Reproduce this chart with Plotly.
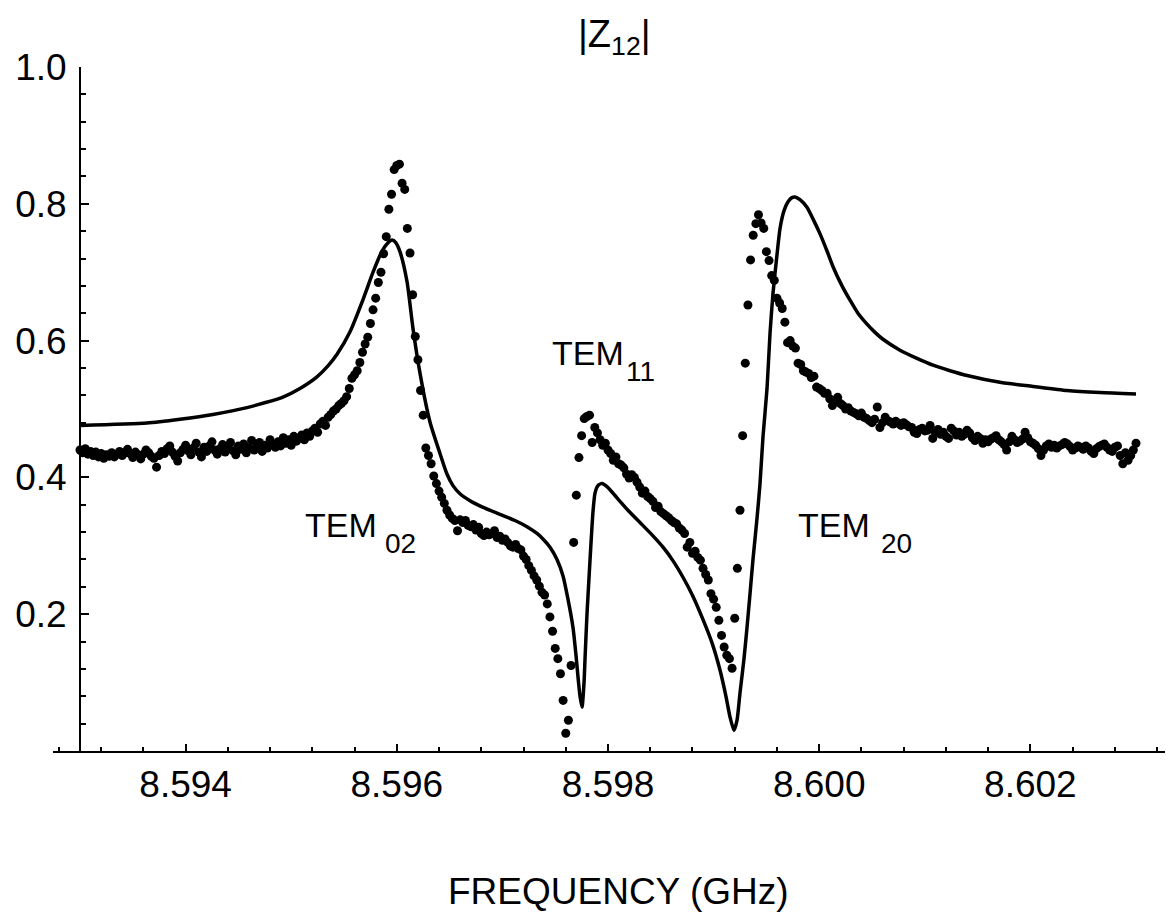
import numpy as np
import plotly.graph_objects as go

# ---------------- data ----------------
# measured |Z12| (dots), uniform frequency sweep 8.593 .. 8.603 GHz, 401 points
meas_freq_start = 8.593
meas_freq_stop = 8.603

meas_a = [0.440, 0.436, 0.442, 0.434, 0.438, 0.432, 0.437, 0.430, 0.435, 0.428,
          0.433, 0.431, 0.436, 0.430, 0.434, 0.438, 0.432, 0.436, 0.441, 0.435,
          0.429, 0.437, 0.433, 0.427, 0.434, 0.440, 0.436, 0.431, 0.428, 0.415,
          0.432, 0.438, 0.435, 0.442, 0.446, 0.437, 0.431, 0.424, 0.436, 0.441,
          0.447, 0.439, 0.433, 0.443, 0.450, 0.437, 0.430, 0.444, 0.438, 0.446,
          0.452, 0.440, 0.434, 0.442, 0.448, 0.437, 0.445, 0.451, 0.439, 0.433,
          0.446, 0.441, 0.449, 0.436, 0.443, 0.454, 0.440, 0.446, 0.451, 0.438,
          0.447, 0.443, 0.455, 0.449, 0.444, 0.452, 0.446, 0.458, 0.450, 0.455,
          0.447, 0.460, 0.453, 0.457, 0.462, 0.455, 0.465, 0.460, 0.468, 0.472,
          0.466, 0.478, 0.482, 0.476, 0.488, 0.492, 0.497, 0.500, 0.505, 0.508]
meas_b = [0.512, 0.518, 0.530, 0.545, 0.550, 0.556, 0.568, 0.583, 0.595, 0.605,
          0.625, 0.645, 0.662, 0.685, 0.700, 0.727, 0.752, 0.792, 0.814, 0.850,
          0.856, 0.858, 0.830, 0.821, 0.764, 0.728, 0.667, 0.606, 0.572, 0.527,
          0.491, 0.443, 0.432, 0.420, 0.402, 0.391, 0.380, 0.371, 0.362, 0.352,
          0.345, 0.340, 0.337, 0.322, 0.338, 0.334, 0.337, 0.330, 0.328, 0.331,
          0.323, 0.327, 0.318, 0.315, 0.320, 0.316, 0.318, 0.322, 0.312, 0.314,
          0.308, 0.310, 0.305, 0.300, 0.298, 0.302, 0.296, 0.294, 0.285, 0.280,
          0.271, 0.264, 0.256, 0.250, 0.241, 0.232, 0.228, 0.215, 0.196, 0.175,
          0.150, 0.135, 0.113, 0.074, 0.026, 0.045, 0.125, 0.305, 0.374, 0.429,
          0.461, 0.486, 0.489, 0.491, 0.451, 0.473, 0.465, 0.455, 0.447, 0.450]
meas_c = [0.440, 0.435, 0.425, 0.430, 0.420, 0.418, 0.414, 0.405, 0.399, 0.404,
          0.400, 0.393, 0.386, 0.377, 0.380, 0.372, 0.369, 0.365, 0.356, 0.358,
          0.350, 0.347, 0.344, 0.341, 0.337, 0.334, 0.332, 0.326, 0.323, 0.318,
          0.298, 0.305, 0.289, 0.292, 0.283, 0.279, 0.267, 0.258, 0.250, 0.230,
          0.222, 0.210, 0.191, 0.169, 0.152, 0.140, 0.135, 0.121, 0.194, 0.267,
          0.352, 0.461, 0.567, 0.652, 0.718, 0.754, 0.771, 0.784, 0.772, 0.764,
          0.730, 0.717, 0.695, 0.688, 0.662, 0.655, 0.647, 0.627, 0.597, 0.600,
          0.592, 0.589, 0.567, 0.565, 0.556, 0.554, 0.552, 0.546, 0.548, 0.532,
          0.530, 0.527, 0.523, 0.523, 0.515, 0.505, 0.512, 0.517, 0.508, 0.505,
          0.500, 0.502, 0.497, 0.495, 0.493, 0.490, 0.494, 0.488, 0.486, 0.483]
meas_d = [0.480, 0.485, 0.503, 0.473, 0.480, 0.488, 0.483, 0.481, 0.478, 0.482,
          0.479, 0.476, 0.480, 0.477, 0.474, 0.473, 0.466, 0.464, 0.470, 0.472,
          0.468, 0.469, 0.476, 0.457, 0.466, 0.470, 0.463, 0.466, 0.460, 0.457,
          0.472, 0.468, 0.462, 0.466, 0.460, 0.463, 0.469, 0.465, 0.458, 0.454,
          0.460, 0.457, 0.450, 0.455, 0.452, 0.456, 0.458, 0.461, 0.455, 0.452,
          0.448, 0.440, 0.452, 0.460, 0.455, 0.451, 0.453, 0.456, 0.466, 0.458,
          0.452, 0.450, 0.447, 0.442, 0.432, 0.440, 0.446, 0.449, 0.444, 0.447,
          0.443, 0.446, 0.448, 0.451, 0.449, 0.445, 0.440, 0.443, 0.446, 0.444,
          0.441, 0.446, 0.443, 0.438, 0.435, 0.442, 0.445, 0.447, 0.449, 0.444,
          0.440, 0.438, 0.444, 0.446, 0.432, 0.420, 0.436, 0.425, 0.432, 0.440,
          0.450]
meas_vals = meas_a + meas_b + meas_c + meas_d
meas_freq = np.linspace(meas_freq_start, meas_freq_stop, len(meas_vals))

# theoretical |Z12| (solid line)
theory_freq = [8.593000, 8.593634, 8.593947, 8.594259, 8.594581, 8.594922, 8.595083,
               8.595244, 8.595348, 8.595434,
               8.595557, 8.595680, 8.595775, 8.595860, 8.595917, 8.595955, 8.595992,
               8.596030, 8.596097, 8.596153, 8.596220, 8.596314, 8.596409, 8.596475,
               8.596532, 8.596598, 8.596693, 8.596835, 8.596977, 8.597119, 8.597233,
               8.597328, 8.597384, 8.597451, 8.597517, 8.597574, 8.597621, 8.597669,
               8.597697, 8.597716, 8.597735, 8.597754, 8.597773, 8.597782, 8.597801,
               8.597830, 8.597858, 8.597877, 8.597905, 8.597943, 8.598000, 8.598085,
               8.598189, 8.598303, 8.598417, 8.598521, 8.598616, 8.598710, 8.598805,
               8.598900, 8.598985, 8.599061, 8.599117, 8.599155, 8.599193, 8.599222,
               8.599250, 8.599288, 8.599316, 8.599345, 8.599373, 8.599411, 8.599439,
               8.599468, 8.599506, 8.599534, 8.599563, 8.599600, 8.599629, 8.599667,
               8.599705, 8.599742, 8.599771, 8.599818, 8.599884, 8.599941, 8.600008,
               8.600074, 8.600131, 8.600216, 8.600292, 8.600367, 8.600453, 8.600528,
               8.600604, 8.600765, 8.600926, 8.601078, 8.601239, 8.601400, 8.601712,
               8.602025, 8.602347, 8.602659, 8.603000]
theory_vals = [0.476, 0.4795, 0.485, 0.492, 0.502, 0.5175, 0.530,
               0.547, 0.563, 0.580,
               0.613, 0.660, 0.700, 0.731, 0.743, 0.747, 0.743,
               0.730, 0.686, 0.618, 0.552, 0.481, 0.435, 0.405,
               0.388, 0.376, 0.366, 0.355, 0.346, 0.337, 0.328,
               0.318, 0.310, 0.298, 0.280, 0.256, 0.222, 0.180,
               0.140, 0.108, 0.080, 0.064, 0.100, 0.133, 0.200,
               0.280, 0.350, 0.377, 0.388, 0.391, 0.385, 0.370,
               0.352, 0.334, 0.316, 0.298, 0.278, 0.254, 0.226,
               0.192, 0.158, 0.118, 0.080, 0.050, 0.030, 0.045,
               0.085, 0.135, 0.180, 0.230, 0.280, 0.340, 0.390,
               0.460, 0.530, 0.610, 0.670, 0.725, 0.764, 0.790,
               0.803, 0.809, 0.810, 0.806, 0.795, 0.778, 0.756,
               0.731, 0.708, 0.680, 0.659, 0.640, 0.624, 0.612,
               0.602, 0.586, 0.574, 0.564, 0.556, 0.549, 0.539,
               0.533, 0.527, 0.524, 0.522]

x_major_ticks = [8.594, 8.596, 8.598, 8.600, 8.602]
x_tick_labels = ["8.594", "8.596", "8.598", "8.600", "8.602"]
y_major_ticks = [0.2, 0.4, 0.6, 0.8, 1.0]
y_tick_labels = ["0.2", "0.4", "0.6", "0.8", "1.0"]

# ---------------- figure ----------------
W, H = 1166, 917
L, R, T, B = 53, 1, 67, 166
PW, PH = W - L - R, H - T - B
FONT = "Liberation Sans, Arial, sans-serif"


def px_x(px):
    return (px - L) / PW


def px_y(py):
    return (H - B - py) / PH


fig = go.Figure()
fig.add_trace(go.Scatter(x=theory_freq, y=theory_vals, mode="lines",
                         line=dict(color="black", width=3.5, shape="spline", smoothing=0.6),
                         showlegend=False, hoverinfo="skip"))
fig.add_trace(go.Scatter(x=meas_freq, y=meas_vals, mode="markers",
                         marker=dict(color="black", size=9),
                         showlegend=False))

x_left = 8.593 - 27 / 105600
x_right = 8.593 + 1085 / 105600

fig.update_layout(
    width=W, height=H,
    margin=dict(l=L, r=R, t=T, b=B, pad=0),
    paper_bgcolor="white", plot_bgcolor="white",
    font=dict(family=FONT, size=37, color="black"),
    xaxis=dict(range=[x_left, x_right], showgrid=False, zeroline=False,
               showline=True, linecolor="black", linewidth=2,
               tickmode="array", tickvals=x_major_ticks, ticktext=x_tick_labels,
               ticks="inside", ticklen=7, tickwidth=2, tickcolor="black",
               tickfont=dict(family=FONT, size=37, color="black"),
               minor=dict(dtick=0.0004, tick0=8.594, ticks="inside", ticklen=4,
                          tickwidth=1.5, tickcolor="black", showgrid=False)),
    yaxis=dict(range=[0, 1.0], showgrid=False, zeroline=False,
               anchor="free", position=27 / PW,
               showline=True, linecolor="black", linewidth=2,
               tickmode="array", tickvals=y_major_ticks, ticktext=y_tick_labels,
               ticks="inside", ticklen=8, tickwidth=2, tickcolor="black",
               ticklabelstandoff=5,
               tickfont=dict(family=FONT, size=37, color="black"),
               minor=dict(dtick=0.04, tick0=0, ticks="inside", ticklen=5,
                          tickwidth=1.5, tickcolor="black", showgrid=False)),
)

ann = []
ann.append(dict(text="|Z<sub>12</sub>|", x=px_x(614), y=px_y(37), xref="paper", yref="paper",
                xanchor="center", yanchor="middle", showarrow=False,
                font=dict(family=FONT, size=38, color="black")))
ann.append(dict(text="FREQUENCY (GHz)", x=px_x(618), y=px_y(891), xref="paper", yref="paper",
                xanchor="center", yanchor="middle", showarrow=False,
                font=dict(family=FONT, size=37, color="black")))

labels = [("TEM", "02", 303, 525, 383, 543),
          ("TEM", "11", 550, 353, 624, 371),
          ("TEM", "20", 796, 525, 879, 543)]
for main, sub, mx, my, sx, sy in labels:
    ann.append(dict(text=main, x=px_x(mx), y=px_y(my), xref="paper", yref="paper",
                    xanchor="left", yanchor="middle", showarrow=False,
                    font=dict(family=FONT, size=34, color="black")))
    ann.append(dict(text=sub, x=px_x(sx), y=px_y(sy), xref="paper", yref="paper",
                    xanchor="left", yanchor="middle", showarrow=False,
                    font=dict(family=FONT, size=28, color="black")))
fig.update_layout(annotations=ann)

fig.write_html("out.html")
